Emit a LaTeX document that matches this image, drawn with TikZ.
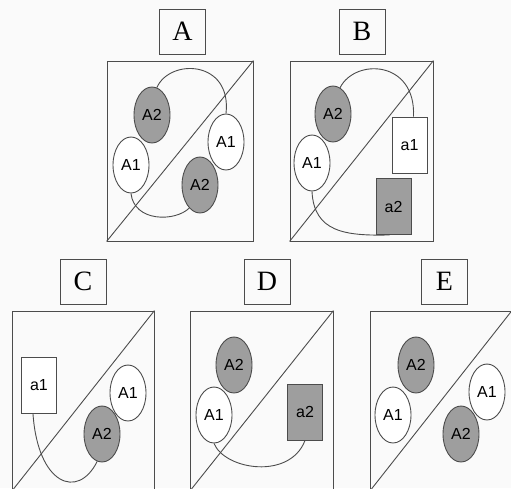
\documentclass[tikz,border=0pt]{standalone}
\usepackage{fontspec}
\setmainfont{Liberation Serif}
\newfontfamily\cellfont{Liberation Sans}
\usetikzlibrary{shapes.geometric}
\begin{document}
\begin{tikzpicture}[x=1pt,y=-1pt]
  \tikzstyle{frame}=[draw=black!70, line width=0.9pt, inner sep=0pt]
  \tikzstyle{panel}=[frame, rectangle, minimum height=180pt]
  \tikzstyle{tag}=[frame, rectangle, minimum width=46pt, minimum height=45pt, font=\fontsize{28}{28}\selectfont]
  \tikzstyle{cell}=[frame, ellipse, minimum width=36pt, minimum height=56pt, font=\cellfont\fontsize{16}{16}\selectfont]
  \tikzstyle{blk}=[frame, rectangle, minimum width=35pt, minimum height=56pt, font=\cellfont\fontsize{16}{16}\selectfont]
  \tikzstyle{shade}=[fill=black!38]
  \tikzstyle{plain}=[fill=white]
  \tikzstyle{link}=[draw=black!70, line width=0.9pt]

  \fill[black!2] (0,0) rectangle (511,488);
  \clip (0,0) rectangle (511,488);

  % panel A
  \node[tag]                      (tA)  at (182.5, 31.5) {A};
  \node[panel, minimum width=146pt] (pA) at (180,   151)  {};
  \draw[link] (pA.south west) -- (pA.north east);
  \node[cell, shade] (A2u) at (152, 115) {A2};
  \node[cell, plain] (A1l) at (131, 165) {A1};
  \node[cell, plain] (A1r) at (226, 142) {A1};
  \node[cell, shade] (A2d) at (200, 185) {A2};
  \draw[link] (A2u.80) .. controls (170,58) and (232,60) .. (A1r.north);
  \draw[link] (A1l.south) .. controls (134,222) and (175,222) .. (A2d.245);

  % panel B
  \node[tag]                      (tB)  at (362,   31.5) {B};
  \node[panel, minimum width=143pt] (pB) at (361.5, 151)  {};
  \draw[link] (pB.south west) -- (pB.north east);
  \node[cell, shade] (BA2) at (333,   114)   {A2};
  \node[cell, plain] (BA1) at (312,   163)   {A1};
  \node[blk,  plain] (Ba1) at (409.5, 145)   {a1};
  \node[blk,  shade] (Ba2) at (393.5, 206.5) {a2};
  \draw[link] (BA2.75) .. controls (355,58) and (416,60) .. ([xshift=4pt]Ba1.north);
  \draw[link] (BA1.south) .. controls (314,232) and (345,236) .. ([xshift=14pt]Ba2.south west);

  % panel C
  \node[tag]                      (tC)  at (83,  281.5) {C};
  \node[panel, minimum width=142pt] (pC) at (83,   401)   {};
  \draw[link] (pC.south west) -- (pC.north east);
  \node[blk,  plain] (Ca1) at (39,  385.5) {a1};
  \node[cell, plain] (CA1) at (128, 393)   {A1};
  \node[cell, shade] (CA2) at (102, 434)   {A2};
  \draw[link] ([xshift=-6pt]Ca1.south) .. controls (38,485) and (78,500) .. (CA2.260);

  % panel D
  \node[tag]                      (tD)  at (267,   281.5) {D};
  \node[panel, minimum width=143pt] (pD) at (261.5, 401)   {};
  \draw[link] (pD.south west) -- (pD.north east);
  \node[cell, shade] (DA2) at (234, 365) {A2};
  \node[cell, plain] (DA1) at (214, 415) {A1};
  \node[blk,  shade] (Da2) at (305, 412) {a2};
  \draw[link] (DA1.south) .. controls (225,470) and (290,480) .. (Da2.south);

  % panel E
  \node[tag]                        (tE)  at (444.5,  281.5) {E};
  \node[panel, minimum width=141.5pt] (pE) at (440.75, 401)   {};
  \draw[link] (pE.south west) -- (pE.north east);
  \node[cell, shade] (EA2u) at (416, 365) {A2};
  \node[cell, plain] (EA1l) at (393, 415) {A1};
  \node[cell, plain] (EA1r) at (487, 392) {A1};
  \node[cell, shade] (EA2d) at (461, 434) {A2};
\end{tikzpicture}
\end{document}
